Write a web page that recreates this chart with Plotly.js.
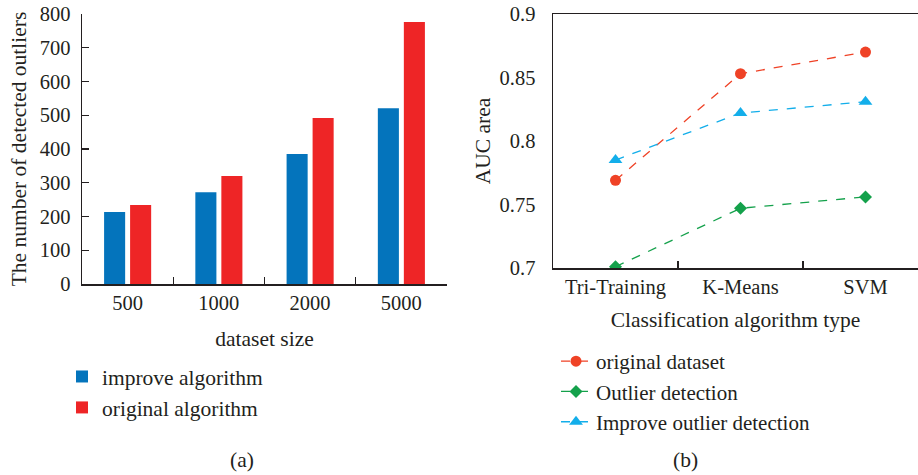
<!DOCTYPE html>
<html>
<head>
<meta charset="utf-8">
<script src="https://cdn.plot.ly/plotly-3.0.1.min.js"></script>
<style>html,body{margin:0;padding:0;background:#fff;}#chart{width:918px;height:475px;}</style>
</head>
<body>
<div id="chart"></div>
<script>
// Panel (a): bar chart
const datasetSizes = ['500', '1000', '2000', '5000'];
const improveAlgorithm = [213, 272, 385, 521];
const originalAlgorithm = [234, 320, 492, 776];

// Panel (b): line chart
const algorithmTypes = ['Tri-Training', 'K-Means', 'SVM'];
const originalDataset = [0.769, 0.853, 0.870];
const outlierDetection = [0.701, 0.747, 0.756];
const improveOutlierDetection = [0.785, 0.822, 0.831];

const FONT = 'Liberation Serif, Times New Roman, serif';
const INK = '#231f20';
const FS = 21.5;   // title / legend text
const TFS = 20.5;  // tick labels
const W = 918, H = 475;
const px = v => v / W;
const py = v => 1 - v / H;

const traces = [
  {type: 'bar', x: datasetSizes, y: improveAlgorithm, name: 'improve algorithm',
   marker: {color: '#0474bc'}, xaxis: 'x', yaxis: 'y', legend: 'legend'},
  {type: 'bar', x: datasetSizes, y: originalAlgorithm, name: 'original algorithm',
   marker: {color: '#ee2526'}, xaxis: 'x', yaxis: 'y', legend: 'legend'},
  {type: 'scatter', mode: 'lines+markers', x: algorithmTypes, y: originalDataset, name: 'original dataset',
   line: {color: '#ef4226', dash: 'dash', width: 1.3}, marker: {symbol: 'circle', size: 11, color: '#ef4226'},
   xaxis: 'x2', yaxis: 'y2', legend: 'legend2'},
  {type: 'scatter', mode: 'lines+markers', x: algorithmTypes, y: outlierDetection, name: 'Outlier detection',
   line: {color: '#14a14b', dash: 'dash', width: 1.3}, marker: {symbol: 'diamond', size: 10, color: '#14a14b'},
   xaxis: 'x2', yaxis: 'y2', legend: 'legend2'},
  {type: 'scatter', mode: 'lines+markers', x: algorithmTypes, y: improveOutlierDetection, name: 'Improve outlier detection',
   line: {color: '#13aeea', dash: 'dash', width: 1.3}, marker: {symbol: 'triangle-up', size: 12, color: '#13aeea'},
   xaxis: 'x2', yaxis: 'y2', legend: 'legend2'}
];

const axisCommon = {
  showgrid: false, zeroline: false, showline: true, linecolor: INK, linewidth: 1.5,
  tickfont: {family: FONT, size: TFS, color: INK}, automargin: false
};
const titleFont = {family: FONT, size: FS, color: INK};

const layout = {
  width: W, height: H,
  margin: {l: 0, r: 0, t: 0, b: 0},
  paper_bgcolor: '#fff', plot_bgcolor: '#fff',
  font: {family: FONT, color: INK, size: FS},
  barmode: 'group', bargap: 0.43, bargroupgap: 0.19,
  xaxis: Object.assign({}, axisCommon, {
    domain: [px(82), px(447)], anchor: 'y', type: 'category',
    ticks: 'inside', ticklen: 7, tickwidth: 1.3, tickcolor: INK, tickson: 'boundaries',
    title: {text: 'dataset size', font: titleFont, standoff: 18}
  }),
  yaxis: Object.assign({}, axisCommon, {
    domain: [py(284), py(14)], anchor: 'x', range: [0, 800], dtick: 100,
    ticks: 'inside', ticklen: 7, tickwidth: 1.3, tickcolor: INK, ticklabelstandoff: 6,
    title: {text: 'The number of detected outliers', font: titleFont, standoff: 7}
  }),
  xaxis2: Object.assign({}, axisCommon, {
    domain: [px(553), 1], anchor: 'y2', type: 'category', range: [-0.5, 2.42],
    mirror: true,
    ticks: 'inside', ticklen: 7, tickwidth: 1.3, tickcolor: INK, tickson: 'boundaries',
    title: {text: 'Classification algorithm type', font: titleFont, standoff: 14}
  }),
  yaxis2: Object.assign({}, axisCommon, {
    domain: [py(268), py(14)], anchor: 'x2', range: [0.7, 0.9], dtick: 0.05,
    ticks: '', ticklabelstandoff: 12,
    title: {text: 'AUC area', font: titleFont, standoff: 3}
  }),
  legend: {
    x: px(62), y: py(356), xanchor: 'left', yanchor: 'top',
    bgcolor: 'rgba(0,0,0,0)', borderwidth: 0,
    font: {family: FONT, size: FS, color: INK}, traceorder: 'normal'
  },
  legend2: {
    x: px(556), y: py(341), xanchor: 'left', yanchor: 'top',
    bgcolor: 'rgba(0,0,0,0)', borderwidth: 0,
    font: {family: FONT, size: 21, color: INK}, traceorder: 'normal'
  },
  annotations: [
    {text: '(a)', xref: 'paper', yref: 'paper', x: px(228), y: py(460), yanchor: 'middle', showarrow: false,
     font: titleFont},
    {text: '(b)', xref: 'paper', yref: 'paper', x: px(700), y: py(460), yanchor: 'middle', showarrow: false,
     font: titleFont}
  ]
};

Plotly.newPlot('chart', traces, layout, {displayModeBar: false, staticPlot: true});
</script>
</body>
</html>
